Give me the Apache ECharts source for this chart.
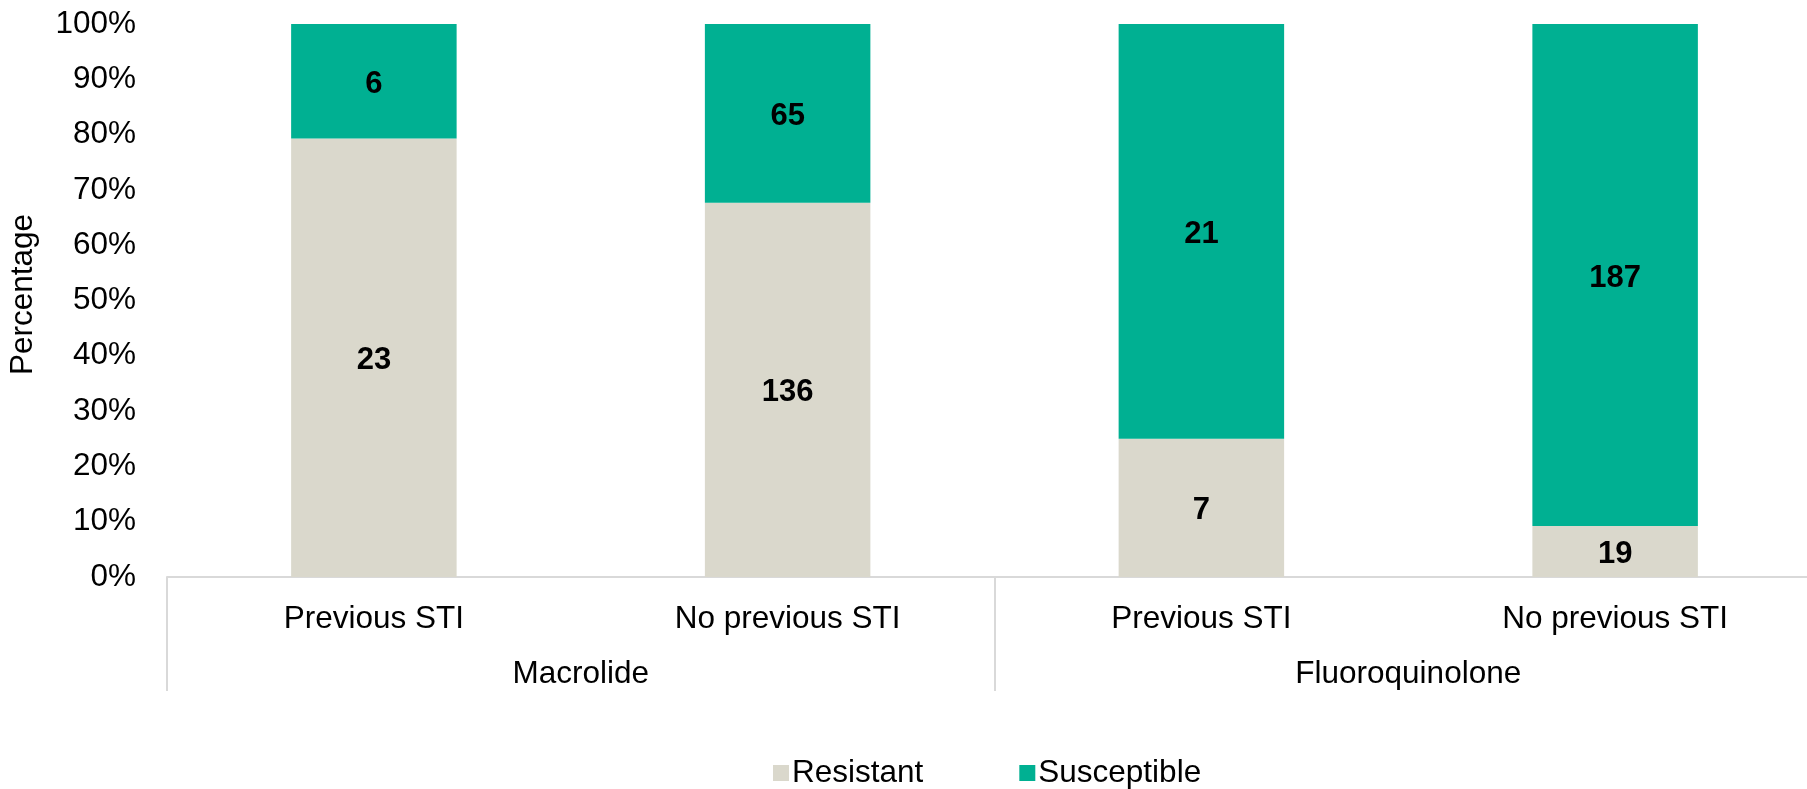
<!DOCTYPE html>
<html>
<head>
<meta charset="utf-8">
<script src="https://cdn.jsdelivr.net/npm/echarts@6/dist/echarts.min.js"></script>
<style>
  html, body { margin: 0; padding: 0; background: #fff; }
  #chart { width: 1807px; height: 789px; }
</style>
</head>
<body>
<div id="chart"></div>
<script>
// Isolate counts by prior STI history, grouped by antimicrobial class
const subCategories = ['Previous STI', 'No previous STI', 'Previous STI', 'No previous STI'];
const groupCategories = ['Macrolide', 'Fluoroquinolone'];
const resistantCounts = [23, 136, 7, 19];
const susceptibleCounts = [6, 65, 21, 187];
const yTicks = [0, 10, 20, 30, 40, 50, 60, 70, 80, 90, 100];

const FONT = '"Liberation Sans", Arial, sans-serif';
const FONT_SIZE = 31.5;
const RESISTANT_COLOR = '#DAD8CC';
const SUSCEPTIBLE_COLOR = '#00B092';
const AXIS_GREY = '#D9D9D9';

// Each bar is stacked to 100%; the label shows the raw count
function toShare(counts, idx) {
  const total = resistantCounts[idx] + susceptibleCounts[idx];
  return counts[idx] / total * 100;
}
const resistantData = resistantCounts.map((c, i) => ({ value: toShare(resistantCounts, i), count: c }));
const susceptibleData = susceptibleCounts.map((c, i) => ({ value: toShare(susceptibleCounts, i), count: c }));

const labelStyle = {
  show: true,
  position: 'inside',
  color: '#000',
  fontFamily: FONT,
  fontWeight: 'bold',
  fontSize: 31,
  offset: [0, 3],
  formatter: p => p.data.count
};

const chart = echarts.init(document.getElementById('chart'), null, { renderer: 'canvas' });
chart.setOption({
  animation: false,
  textStyle: { fontFamily: FONT },
  // the plot runs slightly past the right edge of the canvas
  grid: { left: 167, width: 1655, top: 24, bottom: 212, containLabel: false, outerBoundsMode: 'none' },
  legend: {
    left: 768,
    top: 752,
    itemWidth: 16,
    itemHeight: 16,
    itemGap: 96,
    icon: 'rect',
    textStyle: { fontFamily: FONT, fontSize: FONT_SIZE, color: '#000', padding: [0, 0, 0, -2] },
    data: ['Resistant', 'Susceptible']
  },
  xAxis: [
    {
      type: 'category',
      data: subCategories,
      position: 'bottom',
      axisLine: { show: true, lineStyle: { color: AXIS_GREY, width: 2 } },
      axisTick: { show: false },
      axisLabel: { interval: 0, margin: 26, color: '#000', fontFamily: FONT, fontSize: FONT_SIZE }
    },
    {
      type: 'category',
      data: groupCategories,
      position: 'bottom',
      axisLine: { show: false },
      axisTick: {
        show: true,
        interval: 0,
        length: 114,
        lineStyle: { color: AXIS_GREY, width: 2 }
      },
      axisLabel: { interval: 0, margin: 81, color: '#000', fontFamily: FONT, fontSize: FONT_SIZE }
    }
  ],
  yAxis: {
    type: 'value',
    min: yTicks[0],
    max: yTicks[yTicks.length - 1],
    interval: 10,
    name: 'Percentage',
    nameLocation: 'middle',
    nameRotate: 90,
    nameGap: 128,
    nameTextStyle: { color: '#000', fontFamily: FONT, fontSize: FONT_SIZE, padding: [0, 0, 0, 12] },
    axisLine: { show: false },
    axisTick: { show: false },
    splitLine: { show: false },
    axisLabel: { margin: 31, color: '#000', fontFamily: FONT, fontSize: FONT_SIZE, formatter: '{value}%' }
  },
  series: [
    {
      name: 'Resistant',
      type: 'bar',
      stack: 'total',
      xAxisIndex: 0,
      barCategoryGap: '60%',
      itemStyle: { color: RESISTANT_COLOR },
      label: labelStyle,
      data: resistantData
    },
    {
      name: 'Susceptible',
      type: 'bar',
      stack: 'total',
      xAxisIndex: 0,
      barCategoryGap: '60%',
      itemStyle: { color: SUSCEPTIBLE_COLOR },
      label: labelStyle,
      data: susceptibleData
    }
  ]
});
</script>
</body>
</html>
